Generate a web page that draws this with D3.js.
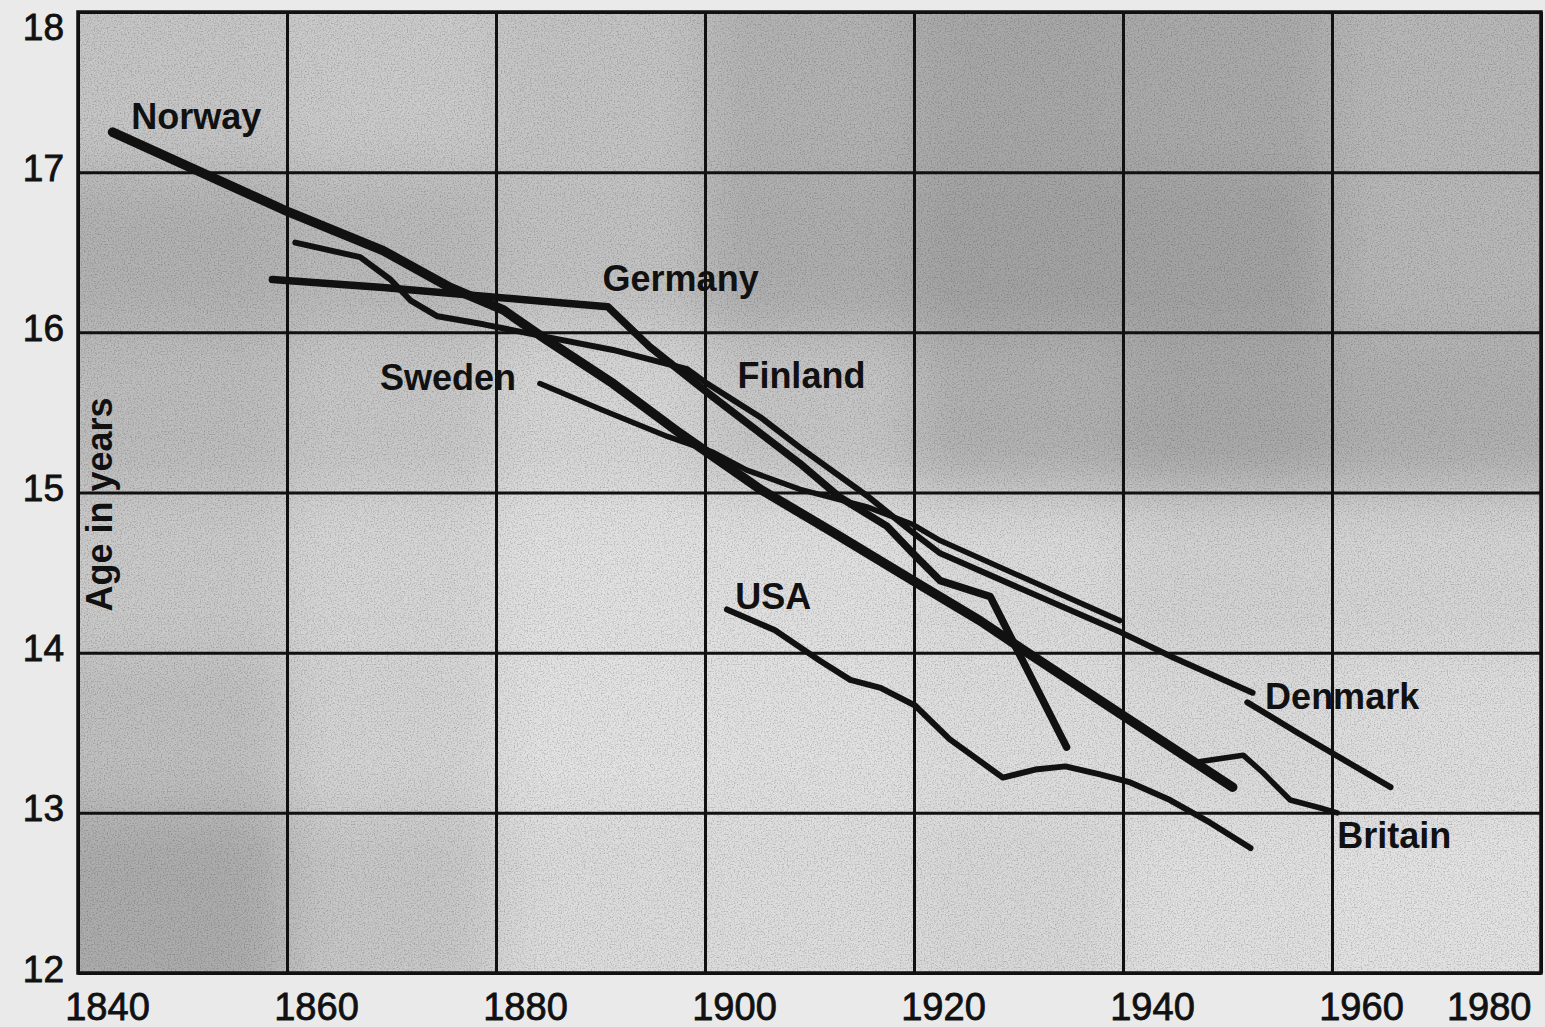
<!DOCTYPE html>
<html>
<head>
<meta charset="utf-8">
<script src="https://cdn.jsdelivr.net/npm/d3@7"></script>
<style>
  html, body { margin: 0; padding: 0; background: #eaeaea; }
  svg { display: block; }
  text { font-family: "Liberation Sans", Arial, sans-serif; fill: #111; }
</style>
</head>
<body>
<svg id="chart" width="1545" height="1027"></svg>
<script>
// Secular trend in age at menarche: [year, age in years]
const xTicks = [1840, 1860, 1880, 1900, 1920, 1940, 1960, 1980];
const yTicks = [12, 13, 14, 15, 16, 17, 18];

const norway = [[1843.3,17.25],[1860.2,16.75],[1869.2,16.51],[1875.6,16.28],[1880.7,16.14],
  [1884.9,15.95],[1891.2,15.68],[1897.6,15.37],[1905.3,15.02],[1912.3,14.75],[1919.9,14.45],
  [1926.3,14.20],[1930.4,14.02],[1939.7,13.62],[1950.5,13.16]];
const germany = [[1858.6,16.33],[1869.2,16.28],[1883.3,16.20],[1890.7,16.16],[1894.7,15.91],
  [1900.5,15.61],[1909.1,15.18],[1912.9,14.97],[1917.4,14.79],[1919.9,14.62],[1922.5,14.45],
  [1927.3,14.35],[1930.4,13.95],[1934.6,13.41]];
const finland = [[1860.8,16.56],[1867.0,16.47],[1869.9,16.33],[1871.8,16.20],[1874.4,16.10],
  [1878.8,16.05],[1884.9,15.97],[1891.2,15.89],[1898.3,15.77],[1900.2,15.68],[1905.3,15.47],
  [1909.1,15.28],[1915.5,14.98],[1919.9,14.75],[1922.5,14.62],[1939.7,14.13],[1944.8,13.97],
  [1952.4,13.75]];
const sweden = [[1884.2,15.68],[1890.0,15.52],[1896.4,15.35],[1900.8,15.25],[1904.0,15.14],
  [1909.1,15.02],[1915.5,14.91],[1919.9,14.80],[1922.5,14.70],[1931.1,14.45],[1939.7,14.20]];
const usa = [[1902.1,14.27],[1906.7,14.14],[1911.0,13.95],[1913.9,13.83],[1916.8,13.78],
  [1920.1,13.67],[1923.4,13.46],[1928.5,13.22],[1931.6,13.27],[1934.5,13.29],[1937.8,13.24],
  [1940.7,13.19],[1944.5,13.08],[1948.3,12.94],[1952.2,12.78]];
const denmark = [[1951.9,13.69],[1956.7,13.50],[1965.6,13.16]];
const britain = [[1947.4,13.32],[1951.5,13.36],[1953.4,13.25],[1956.0,13.08],[1958.9,13.03],
  [1960.5,13.00]];

// Country names, anchored in data units (start of text, baseline)
const countryNames = ["Norway", "Germany", "Sweden", "Finland", "USA", "Denmark", "Britain"];
const nameYears = [1845.1, 1890.2, 1868.9, 1903.1, 1902.9, 1953.6, 1960.5];
const nameAges = [17.27, 16.26, 15.64, 15.65, 14.27, 13.65, 12.78];

// Line weights
const strokeWidths = { Norway: 9.5, Germany: 7.5, Finland: 6, Sweden: 5.5, USA: 6, Denmark: 6, Britain: 5.5 };

// Printed shading of the plot area, one tone per grid cell (rows from the top)
const cellTones = [
  ["#c6c6c6","#cbcbcb","#c4c4c4","#b3b3b3","#a8a8a8","#aaaaaa","#b8b8b8"],
  ["#b2b2b2","#bababa","#c2c2c2","#aeaeae","#a3a3a3","#a3a3a3","#b8b8b8"],
  ["#bdbdbd","#c7c7c7","#d6d6d6","#c6c6c6","#b1b1b1","#a8a8a8","#b0b0b0"],
  ["#cacaca","#d6d6d6","#e1e1e1","#e0e0e0","#dbdbdb","#d3d3d3","#d5d5d5"],
  ["#c0c0c0","#d4d4d4","#e2e2e2","#e1e1e1","#dedede","#dbdbdb","#dedede"],
  ["#acacac","#c7c7c7","#dcdcdc","#dddddd","#d8d8d8","#e0e0e0","#e2e2e2"]
];

const series = [
  { name: "Norway", points: norway },
  { name: "Germany", points: germany },
  { name: "Finland", points: finland },
  { name: "Sweden", points: sweden },
  { name: "USA", points: usa },
  { name: "Denmark", points: denmark },
  { name: "Britain", points: britain }
];

const svg = d3.select("#chart");
const plotLeft = 78, plotRight = 1541, plotTop = 12, plotBottom = 973;
const plotW = plotRight - plotLeft, plotH = plotBottom - plotTop;

const x = d3.scaleLinear().domain([1840, 1980]).range([plotLeft, plotRight]);
const y = d3.scaleLinear().domain([12, 18]).range([plotBottom, plotTop]);

const defs = svg.append("defs");
defs.append("clipPath").attr("id", "plotClip")
  .append("rect").attr("x", plotLeft).attr("y", plotTop)
  .attr("width", plotW).attr("height", plotH);
defs.append("filter").attr("id", "soften")
  .attr("x", "-10%").attr("y", "-10%").attr("width", "120%").attr("height", "120%")
  .append("feGaussianBlur").attr("stdDeviation", 28);
const grain = defs.append("filter").attr("id", "grain")
  .attr("x", 0).attr("y", 0).attr("width", "100%").attr("height", "100%");
grain.append("feTurbulence").attr("type", "fractalNoise")
  .attr("baseFrequency", 0.7).attr("numOctaves", 2).attr("seed", 7).attr("result", "n");
grain.append("feColorMatrix").attr("in", "n").attr("type", "matrix")
  .attr("values", "0 0 0 0 0  0 0 0 0 0  0 0 0 0 0  0 0 0 -2.6 1.4");

// Shaded plot background
const bg = svg.append("g").attr("clip-path", "url(#plotClip)");
bg.append("rect").attr("x", plotLeft).attr("y", plotTop)
  .attr("width", plotW).attr("height", plotH).attr("fill", "#c8c8c8");
const cells = bg.append("g").attr("filter", "url(#soften)");
cellTones.forEach((row, r) => {
  row.forEach((tone, c) => {
    const x0 = x(1840 + 20 * c), x1 = x(1860 + 20 * c);
    const y0 = y(18 - r), y1 = y(17 - r);
    cells.append("rect")
      .attr("x", x0 - (c === 0 ? 60 : 0)).attr("y", y0 - (r === 0 ? 60 : 0))
      .attr("width", x1 - x0 + (c === 0 || c === 6 ? 60 : 0))
      .attr("height", y1 - y0 + (r === 0 || r === 5 ? 60 : 0))
      .attr("fill", tone);
  });
});
bg.append("rect").attr("x", plotLeft).attr("y", plotTop)
  .attr("width", plotW).attr("height", plotH)
  .attr("filter", "url(#grain)").attr("opacity", 0.2);

// Grid lines
const grid = svg.append("g").attr("class", "grid");
grid.append("g").attr("transform", `translate(0,${plotBottom})`)
  .call(d3.axisBottom(x).tickValues(xTicks).tickSize(-plotH).tickFormat(""))
  .call(g => g.select(".domain").remove());
grid.append("g").attr("transform", `translate(${plotLeft},0)`)
  .call(d3.axisLeft(y).tickValues(yTicks).tickSize(-plotW).tickFormat(""))
  .call(g => g.select(".domain").remove());
grid.selectAll("line").attr("stroke", "#111").attr("stroke-width", 3);

svg.append("rect").attr("x", plotLeft).attr("y", plotTop)
  .attr("width", plotW).attr("height", plotH)
  .attr("fill", "none").attr("stroke", "#111").attr("stroke-width", 3.5);

// Tick labels
const xAxis = svg.append("g").attr("transform", `translate(0,${plotBottom})`)
  .call(d3.axisBottom(x).tickValues(xTicks).tickSize(0).tickPadding(0).tickFormat(d3.format("d")));
xAxis.select(".domain").remove();
xAxis.selectAll("text")
  .attr("font-size", 38).attr("dy", 0).attr("y", 47)
  .attr("text-anchor", d => d === 1980 ? "end" : "middle")
  .attr("dx", d => d === 1980 ? -10 : 29)
  .attr("fill", "#111").attr("stroke", "#111").attr("stroke-width", 0.8)
  .style("font-family", "'Liberation Sans', Arial, sans-serif");

const yAxis = svg.append("g").attr("transform", `translate(${plotLeft},0)`)
  .call(d3.axisLeft(y).tickValues(yTicks).tickSize(0).tickPadding(14).tickFormat(d3.format("d")));
yAxis.select(".domain").remove();
yAxis.selectAll("text")
  .attr("font-size", 37).attr("dy", d => d === 18 ? 27 : 8)
  .attr("fill", "#111").attr("stroke", "#111").attr("stroke-width", 0.8)
  .style("font-family", "'Liberation Sans', Arial, sans-serif");

// Axis title
svg.append("text")
  .attr("transform", `translate(112,${(397 + 612) / 2}) rotate(-90)`)
  .attr("text-anchor", "middle")
  .attr("font-size", 36).attr("font-weight", "bold")
  .text("Age in years");

// Country lines
const line = d3.line().x(d => x(d[0])).y(d => y(d[1]));
svg.append("g").attr("class", "series")
  .selectAll("path").data(series).join("path")
  .attr("d", d => line(d.points))
  .attr("fill", "none")
  .attr("stroke", "#111")
  .attr("stroke-width", d => strokeWidths[d.name])
  .attr("stroke-linejoin", "round")
  .attr("stroke-linecap", "round");

// Country names
svg.append("g").attr("class", "names")
  .selectAll("text").data(countryNames).join("text")
  .attr("x", (d, i) => x(nameYears[i]))
  .attr("y", (d, i) => y(nameAges[i]))
  .attr("font-size", 36).attr("font-weight", "bold")
  .text(d => d);
</script>
</body>
</html>
